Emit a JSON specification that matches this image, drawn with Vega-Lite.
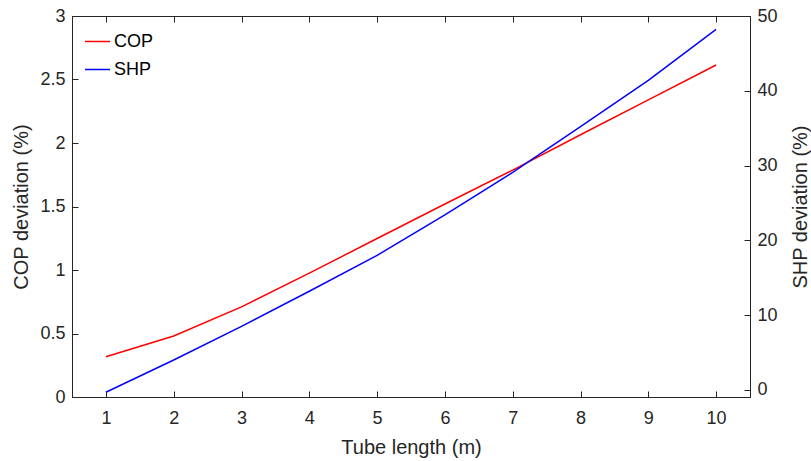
{
  "$schema": "https://vega.github.io/schema/vega-lite/v6.json",
  "width": 678,
  "height": 381,
  "autosize": {"type": "none"},
  "padding": {"left": 72, "top": 16, "right": 61, "bottom": 64},
  "background": "white",
  "config": {
    "font": "Liberation Sans",
    "view": {"stroke": "#262626", "strokeWidth": 1},
    "axis": {
      "grid": false,
      "domainColor": "#262626",
      "tickColor": "#262626",
      "labelColor": "#262626",
      "titleColor": "#262626",
      "labelFont": "Liberation Sans",
      "titleFont": "Liberation Sans",
      "labelFontSize": 18,
      "titleFontSize": 20,
      "titleFontWeight": "normal",
      "tickSize": -6,
      "labelPadding": 13
    },
    "legend": {
      "labelFont": "Liberation Sans",
      "labelFontSize": 18,
      "labelColor": "#000000"
    }
  },
  "data": {
    "values": [
      {"length": 1, "series": "COP", "value": 0.317},
      {"length": 2, "series": "COP", "value": 0.48},
      {"length": 3, "series": "COP", "value": 0.71},
      {"length": 4, "series": "COP", "value": 0.975},
      {"length": 5, "series": "COP", "value": 1.248},
      {"length": 6, "series": "COP", "value": 1.52},
      {"length": 7, "series": "COP", "value": 1.787},
      {"length": 8, "series": "COP", "value": 2.065},
      {"length": 9, "series": "COP", "value": 2.34},
      {"length": 10, "series": "COP", "value": 2.614},
      {"length": 1, "series": "SHP", "value": -0.3},
      {"length": 2, "series": "SHP", "value": 4.0},
      {"length": 3, "series": "SHP", "value": 8.5},
      {"length": 4, "series": "SHP", "value": 13.2},
      {"length": 5, "series": "SHP", "value": 18.0},
      {"length": 6, "series": "SHP", "value": 23.4},
      {"length": 7, "series": "SHP", "value": 29.1},
      {"length": 8, "series": "SHP", "value": 35.2},
      {"length": 9, "series": "SHP", "value": 41.4},
      {"length": 10, "series": "SHP", "value": 48.2}
    ]
  },
  "layer": [
    {
      "transform": [{"filter": "datum.series == 'COP'"}],
      "mark": {"type": "line", "strokeWidth": 1.5, "clip": true},
      "encoding": {
        "x": {
          "field": "length", "type": "quantitative",
          "scale": {"domain": [0.5, 10.5], "nice": false, "zero": false},
          "axis": {"title": "Tube length (m)", "values": [1,2,3,4,5,6,7,8,9,10], "format": ".2~f", "labelPadding": 18, "titlePadding": 10}
        },
        "y": {
          "field": "value", "type": "quantitative",
          "scale": {"domain": [0, 3], "nice": false},
          "axis": {"title": "COP deviation (%)", "orient": "left", "values": [0,0.5,1,1.5,2,2.5,3], "format": ".2~f", "titlePadding": 8}
        },
        "color": {
          "field": "series", "type": "nominal",
          "scale": {"domain": ["COP", "SHP"], "range": ["#ff0000", "#0000ff"]},
          "legend": {
            "title": null, "orient": "top-left", "offset": 12, "padding": 0,
            "symbolType": "stroke", "symbolSize": 625, "symbolStrokeWidth": 1.5,
            "labelOffset": 3, "rowPadding": 5, "fillColor": null, "strokeColor": null
          }
        }
      }
    },
    {
      "transform": [{"filter": "datum.series == 'SHP'"}],
      "mark": {"type": "line", "strokeWidth": 1.5, "clip": true},
      "encoding": {
        "x": {
          "field": "length", "type": "quantitative",
          "scale": {"domain": [0.5, 10.5], "nice": false, "zero": false},
          "axis": {"orient": "top", "title": null, "labels": false, "values": [1,2,3,4,5,6,7,8,9,10]}
        },
        "y": {
          "field": "value", "type": "quantitative",
          "scale": {"domain": [-0.94, 50], "nice": false, "zero": false},
          "axis": {"title": "SHP deviation (%)", "orient": "right", "titleAngle": 270, "titleBaseline": "top", "values": [0,10,20,30,40,50], "format": ".2~f", "titlePadding": 13}
        },
        "color": {"field": "series", "type": "nominal"}
      }
    }
  ],
  "resolve": {"scale": {"y": "independent", "x": "independent"}, "axis": {"x": "independent", "y": "independent"}}
}
